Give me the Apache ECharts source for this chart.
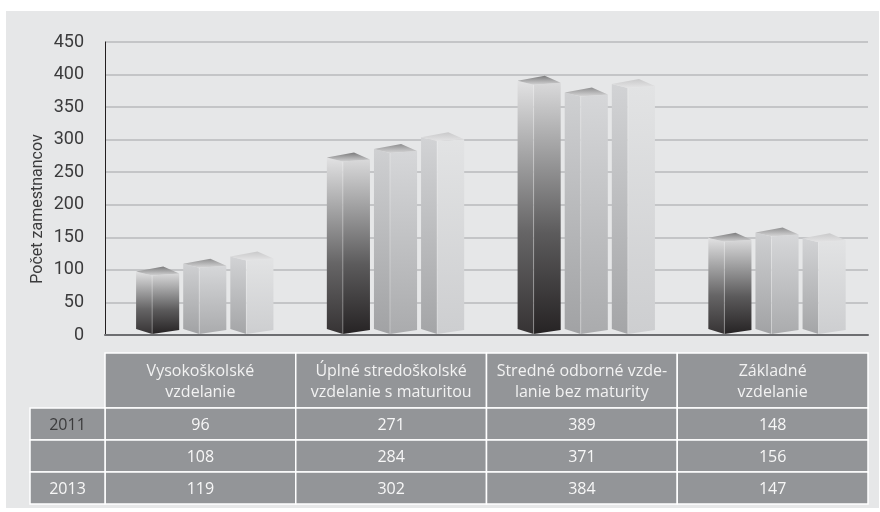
<!DOCTYPE html>
<html>
<head>
<meta charset="utf-8">
<script src="https://cdn.jsdelivr.net/npm/echarts@6/dist/echarts.min.js"></script>
<style>
  html, body { margin: 0; padding: 0; background: #fff; }
  #chart { width: 880px; height: 512px; }
</style>
</head>
<body>
<div id="chart"></div>
<script>
// kategórie (hlavička tabuľky)
const categories = [
  'Vysokoškolské\nvzdelanie',
  'Úplné stredoškolské\nvzdelanie s maturitou',
  'Stredné odborné vzde-\nlanie bez maturity',
  'Základné\nvzdelanie'
];
const years = ['2011', '2012', '2013'];
const rowLabels = ['2011', '', '2013'];
const values2011 = [96, 271, 389, 148];
const values2012 = [108, 284, 371, 156];
const values2013 = [119, 302, 384, 147];
const allValues = [values2011, values2012, values2013];

const gridLeft = 105, gridRight = 12, gridTop = 42, gridBottom = 177;
const labelFont = "Roboto, 'Noto Sans', sans-serif";
const textFont = "'Open Sans', 'Noto Sans', sans-serif";

// farby kvádrov: bočná stena, predná stena, vrch
const boxColors = [
  {
    side: [[0, '#e2e2e3'], [0.3, '#a3a3a4'], [0.6, '#666566'], [1, '#363334']],
    front: [[0, '#d9d9da'], [0.3, '#9a9a9b'], [0.6, '#5c5b5c'], [1, '#262324']],
    top: [[0, '#7b7b7c'], [1, '#d2d2d3']]
  },
  {
    side: [[0, '#cfd0d2'], [1, '#a1a2a4']],
    front: [[0, '#d6d7d9'], [1, '#aaabad']],
    top: [[0, '#8e8e8f'], [1, '#d6d6d7']]
  },
  {
    side: [[0, '#d2d3d5'], [1, '#a4a5a7']],
    front: [[0, '#e2e3e4'], [1, '#cdced0']],
    top: [[0, '#c9c9ca'], [1, '#e4e4e5']]
  }
];

function grad(stops) {
  return new echarts.graphic.LinearGradient(0, 0, 0, 1,
    stops.map(s => ({ offset: s[0], color: s[1] })));
}

function boxRenderer(si) {
  return function (params, api) {
    const cat = api.value(0);
    const top = api.coord([cat, api.value(1)]);
    const base = api.coord([cat, 0]);
    const band = api.size([1, 0])[0];
    const L = top[0] - band / 2 + band * 0.163 + si * band * 0.247;
    const sw = band * 0.084, w = band * 0.226;
    const F0 = L + sw, F1 = L + w;
    const yv = top[1], y0 = base[1] - 1;
    const c = boxColors[si];
    return {
      type: 'group',
      children: [
        { type: 'polygon', shape: { points: [[L, yv - 1], [F0, yv + 3], [F0, y0], [L, y0 - 5]] },
          style: { fill: grad(c.side) } },
        { type: 'polygon', shape: { points: [[F0, yv + 3], [F1, yv + 1], [F1, y0 - 4], [F0, y0]] },
          style: { fill: grad(c.front) } },
        { type: 'polygon', shape: { points: [[L, yv - 1], [F0, yv + 3], [F1, yv + 1], [L + w * 0.63, yv - 6]] },
          style: { fill: grad(c.top) } },
        { type: 'line', shape: { x1: F0, y1: yv + 3, x2: F0, y2: y0 },
          style: { stroke: 'rgba(255,255,255,0.3)', lineWidth: 1 } }
      ]
    };
  };
}

const chart = echarts.init(document.getElementById('chart'));

const option = {
  backgroundColor: '#ffffff',
  animation: false,
  grid: { left: gridLeft, right: gridRight, top: gridTop, bottom: gridBottom },
  xAxis: {
    type: 'category',
    data: categories,
    axisLine: { show: true, lineStyle: { color: '#6d6e71', width: 2 } },
    axisTick: { show: false },
    axisLabel: { show: false },
    splitLine: { show: false }
  },
  yAxis: {
    type: 'value',
    min: 0,
    max: 450,
    interval: 50,
    axisLine: { show: true, lineStyle: { color: '#231f20', width: 1 } },
    axisTick: { show: false },
    axisLabel: { color: '#3b3b3c', fontSize: 18, fontFamily: labelFont, margin: 21 },
    splitLine: { lineStyle: { color: '#b9babc', width: 1.5 } }
  },
  series: years.map((y, si) => ({
    name: y,
    type: 'custom',
    renderItem: boxRenderer(si),
    encode: { x: 0, y: 1 },
    data: allValues[si].map((v, i) => [i, v]),
    z: 3
  })),
  graphic: []
};
chart.setOption(option);

// tabuľka pod grafom
function buildTable() {
  const els = [];
  els.push({ type: 'rect', z: -100, shape: { x: 6, y: 11, width: 873, height: 497 },
    style: { fill: '#e6e7e8' } });
  els.push({ type: 'text', z: 10, x: 38, y: 209, rotation: Math.PI / 2,
    style: { text: 'Počet zamestnancov', fill: '#3b3b3c', fontSize: 16, fontFamily: labelFont,
      align: 'center', verticalAlign: 'middle' } });

  const band = chart.convertToPixel({ xAxisIndex: 0 }, 1) - chart.convertToPixel({ xAxisIndex: 0 }, 0);
  const headTop = 353, headH = 55, rowH = 32;
  const cellStyle = { fill: '#939598', stroke: '#ffffff', lineWidth: 1.5 };

  categories.forEach((cat, i) => {
    const cx = chart.convertToPixel({ xAxisIndex: 0 }, i);
    const x = cx - band / 2;
    els.push({ type: 'rect', shape: { x: x, y: headTop, width: band, height: headH }, style: cellStyle });
    els.push({ type: 'text', x: cx, y: headTop + headH / 2 + 1,
      style: { text: cat, fill: '#f2f2f2', fontSize: 16, fontFamily: textFont, lineHeight: 21,
        align: 'center', verticalAlign: 'middle' } });
    allValues.forEach((vals, r) => {
      const y = headTop + headH + r * rowH;
      els.push({ type: 'rect', shape: { x: x, y: y, width: band, height: rowH }, style: cellStyle });
      els.push({ type: 'text', x: cx, y: y + rowH / 2 + 1,
        style: { text: String(vals[i]), fill: '#f7f7f7', fontSize: 16, fontFamily: textFont,
          align: 'center', verticalAlign: 'middle' } });
    });
  });

  rowLabels.forEach((lab, r) => {
    const y = headTop + headH + r * rowH;
    els.push({ type: 'rect', shape: { x: 30, y: y, width: gridLeft - 30, height: rowH }, style: cellStyle });
    els.push({ type: 'text', x: (30 + gridLeft) / 2, y: y + rowH / 2 + 1,
      style: { text: lab, fill: r === 0 ? '#3b3b3c' : '#f7f7f7', fontSize: 16, fontFamily: textFont,
        align: 'center', verticalAlign: 'middle' } });
  });
  return els;
}

chart.setOption({ graphic: buildTable() });
</script>
</body>
</html>
